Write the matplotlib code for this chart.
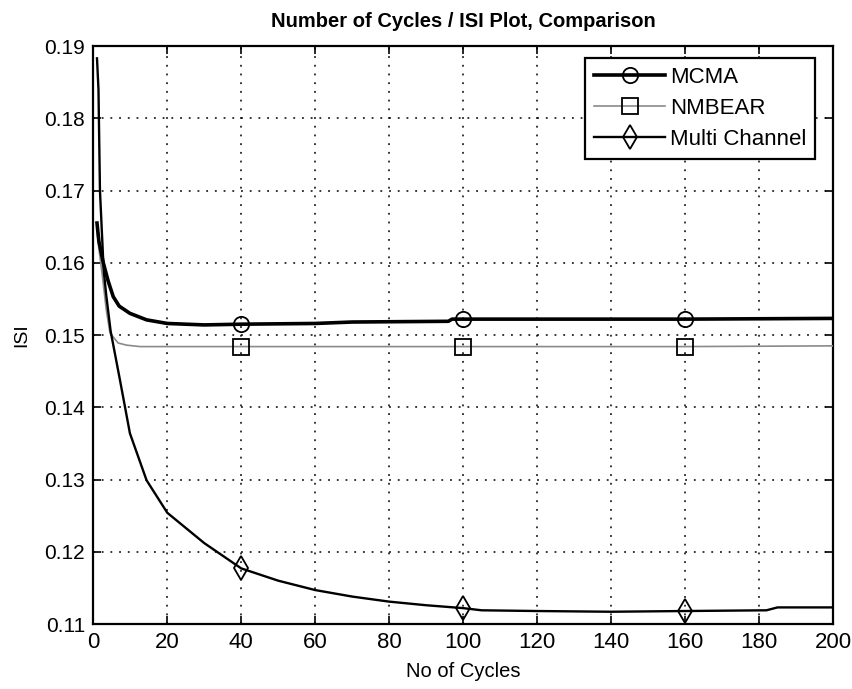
import matplotlib
matplotlib.use("Agg")
import matplotlib.pyplot as plt

# ---- data ----
mcma_x = [1, 1.5, 2.7, 4, 5.4, 7, 9.9, 14.4, 20, 30, 40, 60, 70, 96, 97, 100, 160, 200]
mcma_y = [0.1655, 0.1630, 0.1600, 0.1575, 0.1553, 0.1540, 0.1530, 0.1521, 0.1516, 0.1514,
          0.1515, 0.1516, 0.1518, 0.1519, 0.1522, 0.1522, 0.1522, 0.1523]

nmbear_x = [1, 1.5, 2.5, 3.5, 4.5, 6.7, 9, 12.6, 20, 40, 100, 160, 200]
nmbear_y = [0.1645, 0.1620, 0.1580, 0.1535, 0.1503, 0.1489, 0.1486, 0.1484, 0.1484,
            0.1484, 0.1484, 0.1484, 0.1485]

multi_x = [1, 1.4, 1.8, 2.3, 2.8, 3.5, 4.7, 7.2, 9.9, 14.4, 20, 30, 40, 50, 60, 70, 80,
           90, 100, 105, 120, 140, 160, 182, 185, 200]
multi_y = [0.1883, 0.1840, 0.1700, 0.1645, 0.1590, 0.1555, 0.1505, 0.1438, 0.1364, 0.1299,
           0.1254, 0.1212, 0.1177, 0.1160, 0.1147, 0.1138, 0.1131, 0.1126, 0.1122, 0.1119,
           0.1118, 0.1117, 0.1118, 0.1119, 0.1123, 0.1123]

marker_x = [40, 100, 160]

x_ticks = list(range(0, 201, 20))
y_ticks = [0.11, 0.12, 0.13, 0.14, 0.15, 0.16, 0.17, 0.18, 0.19]
y_ticklabels = ["0.11", "0.12", "0.13", "0.14", "0.15", "0.16", "0.17", "0.18", "0.19"]

title = "Number of Cycles / ISI Plot, Comparison"
xlabel = "No of Cycles"
ylabel = "ISI"
labels = ["MCMA", "NMBEAR", "Multi Channel"]

plt.rcParams['font.family'] = ['Liberation Sans', 'DejaVu Sans']

fig = plt.figure(figsize=(8.52, 6.89), dpi=100)
ax = fig.add_axes([0.1095, 0.0943, 0.8682, 0.8389])


def mark_idx(xs):
    return [xs.index(m) for m in marker_x]


ax.plot(mcma_x, mcma_y, color='black', lw=2.6, marker='o', ms=11, mfc='none',
        mec='black', mew=1.3, markevery=mark_idx(mcma_x), label=labels[0], zorder=4)
ax.plot(nmbear_x, nmbear_y, color='#8a8a8a', lw=1.2, marker='s', ms=11, mfc='none',
        mec='black', mew=1.3, markevery=mark_idx(nmbear_x), label=labels[1], zorder=3)
ax.plot(multi_x, multi_y, color='black', lw=1.7, marker='d', ms=12, mfc='none',
        mec='black', mew=1.3, markevery=mark_idx(multi_x), label=labels[2], zorder=4)

ax.set_xlim(0, 200)
ax.set_ylim(0.11, 0.19)
ax.set_xticks(x_ticks)
ax.set_yticks(y_ticks)
ax.set_yticklabels(y_ticklabels)

ax.grid(True, color='black', linestyle=(0, (1.2, 4.5)), linewidth=1.1)
ax.tick_params(direction='in', top=True, right=True, length=6, width=1.2)
for lab in ax.get_xticklabels():
    lab.set_fontsize(16)
for lab in ax.get_yticklabels():
    lab.set_fontsize(15)
ax.tick_params(axis='x', pad=6)
ax.tick_params(axis='y', pad=6)

for s in ax.spines.values():
    s.set_linewidth(1.6)

ax.set_title(title, fontsize=14.5, fontweight='bold', pad=14)
ax.set_xlabel(xlabel, fontsize=14.5, labelpad=6)
ax.set_ylabel(ylabel, fontsize=14, labelpad=10)

leg = ax.legend(loc='upper right', bbox_to_anchor=(0.9757, 0.979), fontsize=16,
                handlelength=3.2, frameon=True, fancybox=False, edgecolor='black',
                borderaxespad=0.0, labelspacing=0.45, handletextpad=0.2, borderpad=0.4)
leg.get_frame().set_linewidth(1.6)
leg.get_frame().set_alpha(1)

fig.savefig("out.png", dpi=100, facecolor='white')
